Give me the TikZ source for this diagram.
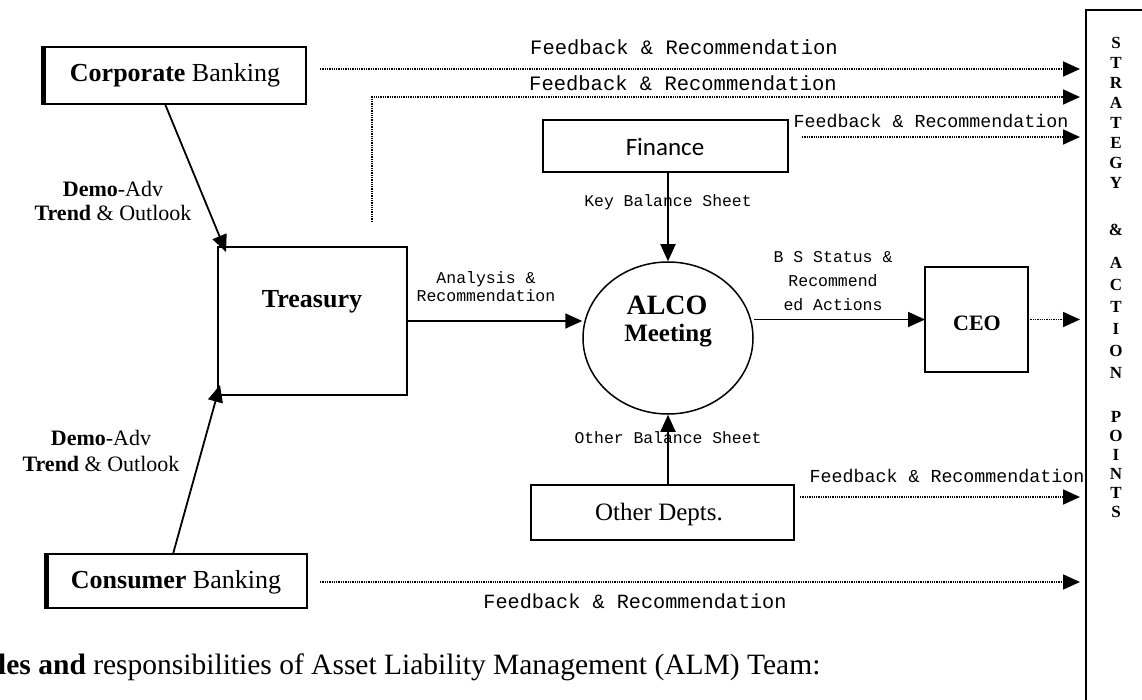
\documentclass[tikz,border=0pt]{standalone}
\usepackage{fontspec}
\setmainfont{Liberation Serif}
\setmonofont{Liberation Mono}
\newfontfamily\calibri{Carlito}
\usetikzlibrary{arrows.meta,shapes.geometric}
\begin{document}
\begin{tikzpicture}[x=1pt,y=-1pt,
  box/.style={draw, line width=1.8pt, inner sep=0pt, outer sep=0pt},
  arr/.style={line width=1.8pt, -{Triangle[length=17pt,width=15pt]}},
  darr/.style={line width=1.7pt, dash pattern=on 1.3pt off 1.0pt, -{Triangle[length=17pt,width=15pt]}},
  mono/.style={font=\ttfamily\fontsize{#1}{#1}\selectfont, inner sep=0pt},
  ser/.style={font=\fontsize{#1}{#1}\selectfont, inner sep=0pt},
  sap/.style={font=\bfseries\fontsize{17}{17}\selectfont, inner sep=0pt},
]
\useasboundingbox (0,0) rectangle (1142,700);

% boxes
\node[box, minimum width=264pt, minimum height=57pt] (corp) at (174,75.5) {};
\node[ser=26] (corptxt) at (175,75) {\textbf{Corporate} Banking};
\draw[line width=5pt] ([xshift=1.5pt]corp.north west) -- ([xshift=1.5pt]corp.south west);

\node[box, minimum width=262pt, minimum height=54pt] (cons) at (176,581) {};
\node[ser=26] (constxt) at (176,582) {\textbf{Consumer} Banking};
\draw[line width=5pt] ([xshift=1.5pt]cons.north west) -- ([xshift=1.5pt]cons.south west);

\node[box, minimum width=189pt, minimum height=148pt] (tre) at (312.5,321) {};
\node[ser=26] (tretxt) at (312,302) {\textbf{Treasury}};

\node[box, minimum width=245pt, minimum height=52pt] (fin) at (665.5,146) {};
\node[font=\calibri\fontsize{25}{25}\selectfont, inner sep=0pt] (fintxt) at (665,147) {Finance};

\node[draw, ellipse, line width=1.5pt, minimum width=170pt, minimum height=152pt, inner sep=0pt] (alco) at (668,338) {};
\node[ser=28] (alcotxt) at (667,305) {\textbf{ALCO}};
\node[ser=25] (meettxt) at (668,336) {\textbf{Meeting}};

\node[box, minimum width=103pt, minimum height=105pt] (ceo) at (976.5,319.5) {};
\node[ser=22] (ceotxt) at (977,323) {\textbf{CEO}};

\node[box, minimum width=263pt, minimum height=55pt] (oth) at (662.5,512.5) {};
\node[ser=25] (othtxt) at (659,514) {Other Depts.};

% right column
\coordinate (tipx) at (1080,0);
\coordinate (colb) at (1086,710);
\coordinate (colt) at (1086,10);
\coordinate (colr) at (1150,10);
\draw[line width=1.8pt] (colb) -- (colt) -- (colr);
\foreach \l/\yy [count=\i] in {S/43,T/63,R/83,A/103,T/123,E/143,G/163,Y/183,
  \&/230,A/263,C/285,T/307,I/329,O/351,N/373,
  P/417,O/436,I/455,N/474,T/493,S/512}
  {\node[sap] (sap\i) at (1116,\yy) {\l};}

% solid arrows
\draw[arr] ([xshift=123pt]corp.south west) -- ([shift={(8,5)}]tre.north west);
\draw[arr] ([xshift=128pt]cons.north west) -- ([shift={(2,-10)}]tre.south west);
\draw[arr] (tre.east) -- (alco.west |- tre.east);
\draw[arr] (alco.north |- fin.south) -- (alco.north);
\draw[arr] (alco.south |- oth.north) -- (alco.south);
\draw[arr] (alco.east |- ceo.west) -- (ceo.west);

% dotted arrows
\coordinate (f1s) at (320,69);
\draw[darr] (f1s) -- (f1s -| tipx);
\coordinate (f2c) at (372,97);
\draw[darr] ([shift={(154,-25)}]tre.north west) |- (f2c -| tipx);
\coordinate (f3s) at (802,137);
\draw[darr] (f3s) -- (f3s -| tipx);
\coordinate (f4s) at (800,497);
\draw[darr] (f4s) -- (f4s -| tipx);
\coordinate (f5s) at (320,582);
\draw[darr] (f5s) -- (f5s -| tipx);
\draw[darr] (ceo.east) -- (ceo.east -| tipx);

% labels
\node[mono=20.5] (l1) at (684,47) {Feedback \& Recommendation};
\node[mono=20.5] (l2) at (683,83) {Feedback \& Recommendation};
\node[mono=18.3] (l3) at (931,121) {Feedback \& Recommendation};
\node[mono=18.3] (l4) at (947,476) {Feedback \& Recommendation};
\node[mono=20.2] (l5) at (635,601) {Feedback \& Recommendation};
\node[mono=16.4] (kbs) at (668,202) {Key Balance Sheet};
\node[mono=16.4] (obs) at (668,438) {Other Balance Sheet};
\node[font=\ttfamily\fontsize{16.5}{18}\selectfont, inner sep=0pt, align=center] (ana) at (486,287) {Analysis \&\\Recommendation};
\node[font=\ttfamily\fontsize{16.5}{24}\selectfont, inner sep=0pt, align=center] (bss) at (833,281) {B S Status \&\\Recommend\\ed Actions};

\node[ser=22, align=center, font=\fontsize{22}{24}\selectfont] (dat1) at (113,201) {\textbf{Demo}-Adv\\\textbf{Trend} \& Outlook};
\node[ser=22, align=center, font=\fontsize{22}{26}\selectfont] (dat2) at (101,451) {\textbf{Demo}-Adv\\\textbf{Trend} \& Outlook};

\node[anchor=west, ser=29.5] (title) at (-2,667) {\textbf{les and} responsibilities of Asset Liability Management (ALM) Team:};
\end{tikzpicture}
\end{document}
